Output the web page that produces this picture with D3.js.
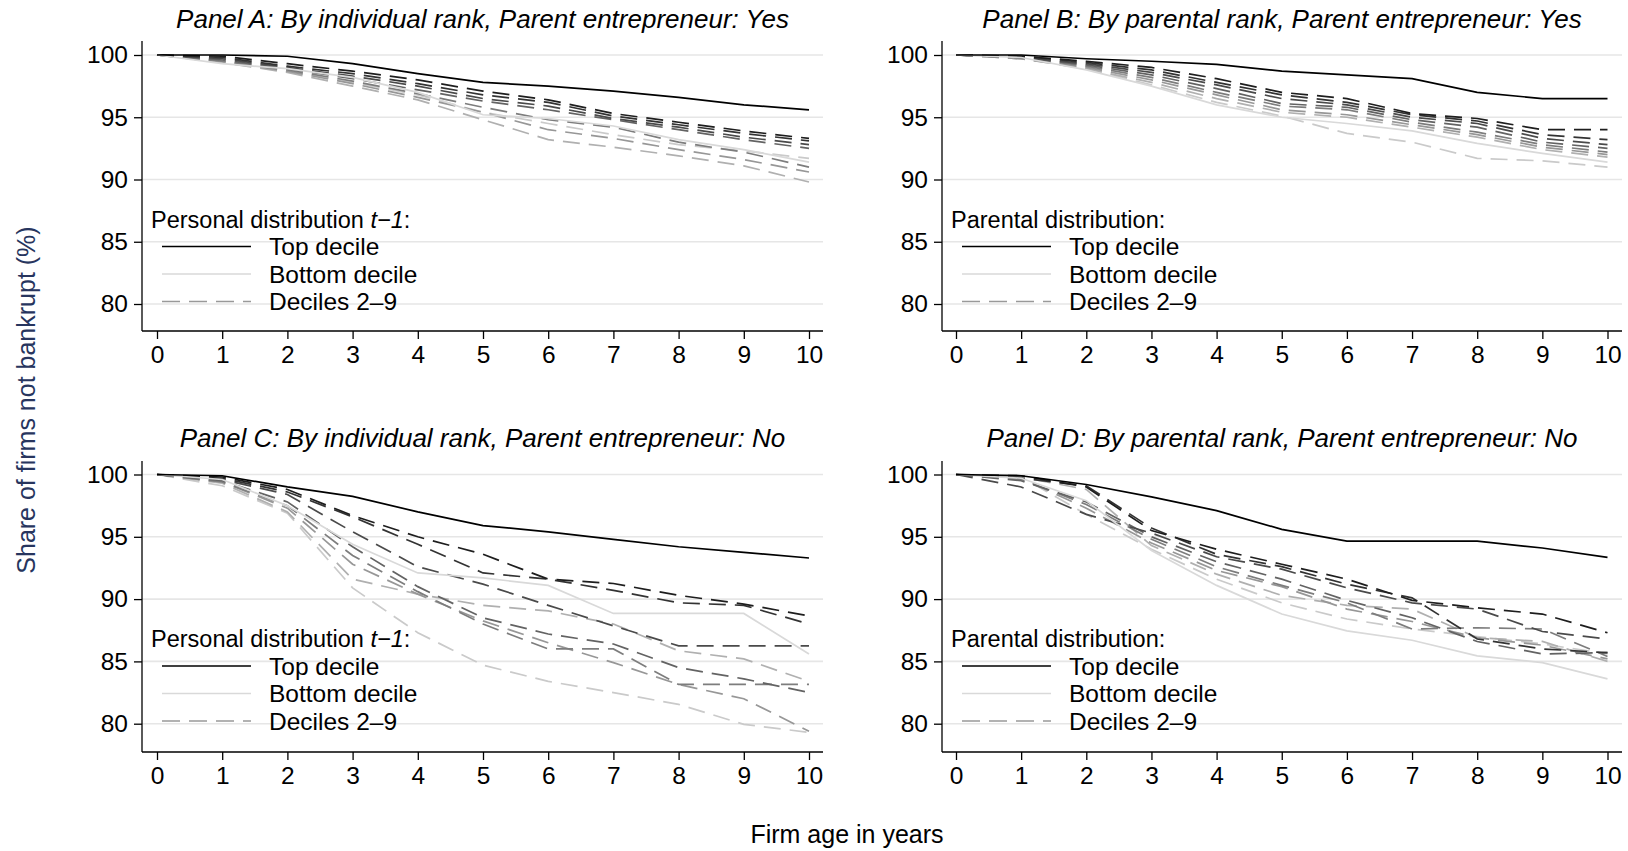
<!DOCTYPE html>
<html>
<head>
<meta charset="utf-8">
<script src="https://cdn.jsdelivr.net/npm/d3@7"></script>
<style>
  html, body { margin: 0; padding: 0; background: #fff; }
  svg text { font-family: "Liberation Sans", Arial, Helvetica, sans-serif; }
</style>
</head>
<body>
<svg id="chart" width="1628" height="851"></svg>
<script>
// ---------------- DATA ----------------
const years = [0, 1, 2, 3, 4, 5, 6, 7, 8, 9, 10];
const yTicks = [80, 85, 90, 95, 100];
const decileNames = ["Decile 9", "Decile 8", "Decile 7", "Decile 6", "Decile 5", "Decile 4", "Decile 3", "Decile 2"];

const panelTitles = [
  "Panel A: By individual rank, Parent entrepreneur: Yes",
  "Panel B: By parental rank, Parent entrepreneur: Yes",
  "Panel C: By individual rank, Parent entrepreneur: No",
  "Panel D: By parental rank, Parent entrepreneur: No"
];
const legendTitles = ["Personal distribution ", "Parental distribution:", "Personal distribution ", "Parental distribution:"];
const legendLabels = ["Top decile", "Bottom decile", "Deciles 2\u20139"];

// Panel A
const aTop    = [100, 100, 99.9, 99.3, 98.5, 97.8, 97.5, 97.1, 96.6, 96.0, 95.6];
const aBottom = [100, 99.3, 98.9, 98.2, 97.0, 95.2, 94.9, 94.3, 93.2, 92.4, 91.4];
const aDeciles = [
  [100, 99.9, 99.3, 98.7, 98.0, 97.1, 96.4, 95.3, 94.6, 93.9, 93.3],
  [100, 99.8, 99.1, 98.5, 97.7, 96.8, 96.2, 95.1, 94.4, 93.7, 93.1],
  [100, 99.7, 99.0, 98.3, 97.5, 96.5, 95.9, 94.9, 94.2, 93.4, 92.8],
  [100, 99.6, 98.9, 98.1, 97.2, 96.3, 95.6, 94.8, 94.0, 93.2, 92.5],
  [100, 99.5, 98.8, 97.9, 96.9, 95.8, 94.8, 94.2, 93.0, 92.2, 91.0],
  [100, 99.5, 98.7, 97.7, 96.6, 95.4, 94.0, 93.3, 92.4, 91.6, 90.6],
  [100, 99.4, 98.6, 97.5, 96.4, 94.8, 93.2, 92.6, 91.9, 91.1, 89.8],
  [100, 99.4, 98.7, 97.8, 96.8, 95.4, 94.5, 93.6, 92.8, 92.3, 91.7]
];

// Panel B
const bTop    = [100, 100, 99.7, 99.5, 99.25, 98.7, 98.4, 98.1, 97.0, 96.5, 96.5];
const bBottom = [100, 99.8, 98.8, 97.5, 96.0, 95.0, 94.5, 93.9, 92.9, 92.1, 91.4];
const bDeciles = [
  [100, 99.9, 99.5, 99.0, 98.1, 97.0, 96.5, 95.3, 94.9, 94.0, 94.0],
  [100, 99.9, 99.4, 98.8, 97.8, 96.8, 96.2, 95.2, 94.7, 93.6, 93.2],
  [100, 99.8, 99.3, 98.6, 97.6, 96.5, 96.0, 95.0, 94.5, 93.3, 92.8],
  [100, 99.8, 99.2, 98.4, 97.3, 96.1, 95.8, 94.8, 94.2, 93.0, 92.5],
  [100, 99.8, 99.1, 98.2, 97.0, 95.9, 95.6, 94.6, 93.8, 92.8, 92.2],
  [100, 99.7, 99.0, 98.0, 96.8, 95.6, 95.2, 94.4, 93.6, 92.6, 92.0],
  [100, 99.7, 98.9, 97.8, 96.5, 95.4, 95.0, 94.2, 93.4, 92.4, 91.8],
  [100, 99.7, 98.9, 97.6, 96.2, 95.1, 93.7, 93.0, 91.7, 91.5, 91.0]
];

// Panel C
const cTop    = [100, 99.9, 99.0, 98.25, 97.0, 95.9, 95.4, 94.8, 94.2, 93.75, 93.3];
const cBottom = [100, 99.6, 97.5, 94.4, 92.1, 91.7, 91.1, 88.85, 88.85, 88.85, 85.6];
const cDeciles = [
  [100, 99.8, 98.8, 96.7, 95.0, 93.6, 91.6, 91.25, 90.3, 89.6, 88.65],
  [100, 99.7, 98.6, 96.6, 94.4, 92.1, 91.6, 90.7, 89.7, 89.5, 88.0],
  [100, 99.6, 98.4, 95.4, 92.6, 91.2, 89.5, 87.85, 86.25, 86.25, 86.25],
  [100, 99.5, 97.8, 94.2, 91.0, 88.5, 87.2, 86.4, 84.5, 83.6, 82.5],
  [100, 99.4, 97.5, 93.5, 90.6, 88.0, 86.0, 86.0, 83.15, 83.15, 83.15],
  [100, 99.4, 97.3, 92.8, 90.4, 88.25, 86.5, 84.9, 83.15, 82.0, 79.4],
  [100, 99.3, 97.0, 91.6, 90.4, 89.5, 89.05, 88.0, 85.85, 85.2, 83.4],
  [100, 99.1, 96.9, 90.9, 87.3, 84.7, 83.4, 82.5, 81.55, 79.95, 79.3]
];

// Panel D
const dTop    = [100, 99.9, 99.2, 98.2, 97.1, 95.6, 94.65, 94.65, 94.65, 94.1, 93.35];
const dBottom = [100, 99.7, 97.9, 93.9, 91.1, 88.8, 87.45, 86.7, 85.45, 84.9, 83.6];
const dDeciles = [
  [100, 99.9, 99.0, 95.5, 94.0, 92.8, 91.6, 89.9, 89.3, 88.8, 87.3],
  [100, 99.7, 99.1, 95.7, 93.6, 92.6, 91.2, 90.1, 86.8, 86.0, 85.7],
  [100, 99.0, 96.8, 95.3, 93.4, 92.4, 90.9, 89.7, 89.2, 87.4, 86.8],
  [100, 99.5, 97.8, 95.0, 93.0, 91.6, 89.9, 88.5, 86.6, 85.6, 85.7],
  [100, 99.6, 97.6, 94.8, 92.6, 91.1, 89.7, 87.6, 87.7, 87.6, 85.4],
  [100, 99.7, 97.3, 94.5, 92.3, 91.0, 89.2, 88.2, 86.9, 86.3, 85.2],
  [100, 99.8, 98.8, 94.3, 92.0, 90.3, 89.5, 89.2, 86.9, 86.6, 85.0],
  [100, 99.8, 96.8, 94.0, 91.6, 89.7, 88.4, 87.6, 87.0, 86.4, 85.6]
];

// ---------------- STYLE ----------------
const decileColors = ["#1e1e1e", "#333333", "#4a4a4a", "#636363", "#7d7d7d", "#979797", "#b0b0b0", "#cacaca"];
const topColor = "#000000";
const bottomColor = "#d9d9d9";
const legendDecileColor = "#999999";
const dash = "17,9";
const tickFont = 24.5;
const legendFont = 24.5;
const legendTitleFont = 23.5;
const titleFont = 26;
const axisTitleFont = 25;

const svg = d3.select("#chart");

const panels = [
  { top: aTop, bottom: aBottom, deciles: aDeciles, px: [142, 823], x0: 157, x10: 809, py: [41, 331], y80: 304, y100: 55, titleY: 19, legendItalic: true },
  { top: bTop, bottom: bBottom, deciles: bDeciles, px: [942, 1622], x0: 956, x10: 1607.5, py: [41, 331], y80: 304, y100: 55, titleY: 19, legendItalic: false },
  { top: cTop, bottom: cBottom, deciles: cDeciles, px: [142, 823], x0: 157, x10: 809, py: [461, 752], y80: 723.7, y100: 474.5, titleY: 438, legendItalic: true },
  { top: dTop, bottom: dBottom, deciles: dDeciles, px: [942, 1622], x0: 956, x10: 1607.5, py: [461, 752], y80: 723.7, y100: 474.5, titleY: 438, legendItalic: false }
];

panels.forEach((p, i) => {
  const g = svg.append("g");
  const x = d3.scaleLinear().domain([0, 10]).range([p.x0, p.x10]);
  const y = d3.scaleLinear().domain([80, 100]).range([p.y80, p.y100]);

  // gridlines
  g.selectAll("line.grid").data(yTicks).enter().append("line")
    .attr("x1", p.px[0]).attr("x2", p.px[1])
    .attr("y1", d => y(d)).attr("y2", d => y(d))
    .attr("stroke", "#e6e6e6").attr("stroke-width", 1.6);

  // axes
  const yAxis = d3.axisLeft(y).tickValues(yTicks).tickSize(8).tickPadding(6).tickFormat(d3.format("d"));
  const ya = g.append("g").attr("transform", `translate(${p.px[0]},0)`).call(yAxis);
  ya.select(".domain").remove();
  ya.append("line").attr("x1", 0).attr("x2", 0).attr("y1", p.py[0]).attr("y2", p.py[1])
    .attr("stroke", "#000").attr("stroke-width", 1.3);
  ya.selectAll(".tick line").attr("stroke", "#000").attr("stroke-width", 1.3);
  ya.selectAll(".tick text").attr("font-size", tickFont).attr("fill", "#000")
    .attr("font-family", "'Liberation Sans', Arial, sans-serif");

  const xAxis = d3.axisBottom(x).tickValues(years).tickSize(8).tickPadding(7).tickFormat(d3.format("d"));
  const xa = g.append("g").attr("transform", `translate(0,${p.py[1]})`).call(xAxis);
  xa.select(".domain").remove();
  xa.append("line").attr("x1", p.px[0]).attr("x2", p.px[1]).attr("y1", 0).attr("y2", 0)
    .attr("stroke", "#000").attr("stroke-width", 1.3);
  xa.selectAll(".tick line").attr("stroke", "#000").attr("stroke-width", 1.3);
  xa.selectAll(".tick text").attr("font-size", tickFont).attr("fill", "#000")
    .attr("font-family", "'Liberation Sans', Arial, sans-serif");

  const line = d3.line().x((d, k) => x(years[k])).y(d => y(d));

  // deciles: lightest first so darker on top
  const order = p.deciles.map((d, k) => k).reverse();
  order.forEach(k => {
    g.append("path").datum(p.deciles[k]).attr("d", line)
      .attr("fill", "none").attr("stroke", decileColors[k]).attr("stroke-width", 1.7)
      .attr("stroke-dasharray", dash);
  });
  g.append("path").datum(p.bottom).attr("d", line)
    .attr("fill", "none").attr("stroke", bottomColor).attr("stroke-width", 1.7);
  g.append("path").datum(p.top).attr("d", line)
    .attr("fill", "none").attr("stroke", topColor).attr("stroke-width", 1.7);

  // title
  g.append("text").attr("x", (p.px[0] + p.px[1]) / 2).attr("y", p.titleY)
    .attr("text-anchor", "middle").attr("dominant-baseline", "central")
    .attr("font-size", titleFont).attr("font-style", "italic").attr("fill", "#000")
    .text(panelTitles[i]);

  // legend
  const lx = p.px[0] + 9;
  const ly = y(100) + 164.5;
  const lt = g.append("text").attr("x", lx).attr("y", ly)
    .attr("dominant-baseline", "central").attr("font-size", legendTitleFont).attr("fill", "#000");
  lt.append("tspan").text(legendTitles[i]);
  if (p.legendItalic) {
    lt.append("tspan").attr("font-style", "italic").text("t\u22121");
    lt.append("tspan").text(":");
  }
  const rowsY = [ly + 27, ly + 54.5, ly + 82];
  const styles = [
    { c: topColor, d: null },
    { c: bottomColor, d: null },
    { c: legendDecileColor, d: dash }
  ];
  legendLabels.forEach((lab, r) => {
    const ln = g.append("line").attr("x1", lx + 11).attr("x2", lx + 100)
      .attr("y1", rowsY[r]).attr("y2", rowsY[r])
      .attr("stroke", styles[r].c).attr("stroke-width", 1.7);
    if (styles[r].d) ln.attr("stroke-dasharray", "18,9");
    g.append("text").attr("x", lx + 118).attr("y", rowsY[r])
      .attr("dominant-baseline", "central").attr("font-size", legendFont).attr("fill", "#000")
      .text(lab);
  });
});

// axis titles
svg.append("text").attr("x", 847).attr("y", 834)
  .attr("text-anchor", "middle").attr("dominant-baseline", "central")
  .attr("font-size", axisTitleFont).attr("fill", "#000").text("Firm age in years");
svg.append("text").attr("transform", "translate(26,400) rotate(-90)")
  .attr("text-anchor", "middle").attr("dominant-baseline", "central")
  .attr("font-size", axisTitleFont).attr("fill", "#27355e").text("Share of firms not bankrupt (%)");
</script>
</body>
</html>
